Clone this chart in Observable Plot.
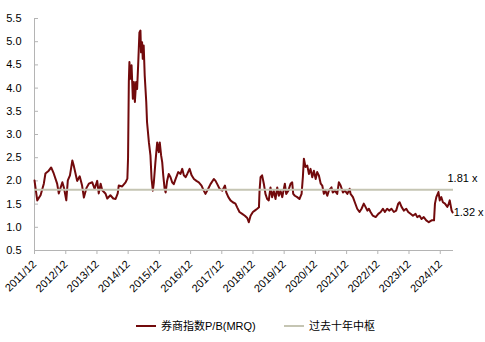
<!DOCTYPE html>
<html><head><meta charset="utf-8">
<script src="https://cdn.jsdelivr.net/npm/d3@7"></script>
<script src="https://cdn.jsdelivr.net/npm/@observablehq/plot@0.6"></script>
<style>
body{margin:0;background:#fff;font-family:"Liberation Sans",Arial,"Noto Sans CJK SC",sans-serif;}
#chart{width:485px;height:300px;}
#legend{position:relative;width:485px;height:42px;font-size:11px;color:#000;}
.item{position:absolute;top:20px;display:flex;align-items:center;height:12px;line-height:12px;white-space:nowrap;}
.sw{width:20px;height:2px;margin-right:5px;}
</style></head><body>
<div id="chart"></div>
<div id="legend"></div>
<script>
// Series: 券商指数P/B(MRQ)
const dates = [
"2011-12-01","2012-01-02","2012-02-10","2012-03-19","2012-04-07","2012-05-16","2012-06-13","2012-07-13","2012-08-22","2012-09-10",
"2012-10-22","2012-11-10","2012-12-07","2012-12-25","2013-01-19","2013-02-16","2013-03-04","2013-03-25","2013-04-13","2013-05-13",
"2013-06-10","2013-07-01","2013-08-01","2013-08-28","2013-10-07","2013-11-04","2013-12-04","2013-12-22","2014-01-13","2014-02-01",
"2014-03-10","2014-04-01","2014-05-07","2014-06-10","2014-07-07","2014-08-01","2014-08-13","2014-09-22","2014-11-01","2014-11-22",
"2014-11-30","2014-12-09","2014-12-16","2014-12-28","2015-01-10","2015-01-25","2015-02-06","2015-02-18","2015-03-04","2015-03-16",
"2015-03-28","2015-04-12","2015-04-24","2015-05-01","2015-05-13","2015-05-21","2015-06-01","2015-06-13","2015-07-01","2015-07-10",
"2015-08-01","2015-08-19","2015-09-01","2015-09-16","2015-09-28","2015-10-16","2015-11-06","2015-11-25","2015-12-06","2015-12-22",
"2016-01-04","2016-01-16","2016-02-01","2016-02-13","2016-03-01","2016-03-20","2016-04-10","2016-04-29","2016-05-18","2016-06-08",
"2016-07-09","2016-08-05","2016-08-25","2016-09-13","2016-10-03","2016-10-23","2016-11-19","2016-12-13","2017-01-09","2017-02-07",
"2017-03-07","2017-04-08","2017-05-04","2017-05-24","2017-06-25","2017-07-22","2017-08-30","2017-09-19","2017-10-09","2017-11-05",
"2017-12-07","2018-01-07","2018-01-23","2018-02-16","2018-03-13","2018-04-09","2018-05-10","2018-05-30","2018-06-26","2018-07-28",
"2018-08-28","2018-09-25","2018-10-13","2018-11-03","2018-11-30","2018-12-22","2019-01-20","2019-02-09","2019-02-16","2019-02-28",
"2019-03-18","2019-04-07","2019-04-26","2019-05-16","2019-06-04","2019-06-24","2019-07-13","2019-08-01","2019-08-22","2019-09-11",
"2019-09-30","2019-10-19","2019-11-09","2019-12-09","2019-12-25","2020-01-19","2020-02-14","2020-03-04","2020-03-16","2020-04-04",
"2020-05-02","2020-05-28","2020-06-22","2020-07-07","2020-07-19","2020-08-07","2020-08-28","2020-09-16","2020-10-05","2020-10-25",
"2020-11-13","2020-12-04","2020-12-22","2021-01-10","2021-02-01","2021-02-19","2021-03-10","2021-03-28","2021-04-19","2021-05-07",
"2021-06-07","2021-06-22","2021-07-16","2021-08-13","2021-09-01","2021-09-22","2021-10-19","2021-11-11","2021-12-10","2022-01-05",
"2022-01-16","2022-02-13","2022-03-07","2022-04-04","2022-05-01","2022-05-25","2022-06-20","2022-07-10","2022-08-01","2022-08-19",
"2022-09-07","2022-10-04","2022-11-06","2022-12-07","2023-01-04","2023-01-30","2023-02-22","2023-03-20","2023-04-16","2023-05-10",
"2023-06-07","2023-07-04","2023-07-28","2023-08-13","2023-09-05","2023-10-01","2023-10-30","2023-11-22","2023-12-19","2024-01-16",
"2024-02-16","2024-03-07","2024-04-03","2024-04-26","2024-05-22","2024-06-20","2024-07-20","2024-08-22","2024-09-19","2024-09-30",
"2024-10-16","2024-11-10","2024-11-25","2024-12-13","2025-01-01","2025-01-25","2025-02-22","2025-03-11","2025-03-22","2025-04-13",
"2025-04-25"
];
const values = [
2.01,1.58,1.69,1.94,2.16,2.22,2.29,2.16,1.94,1.73,
1.97,1.85,1.58,2.01,2.12,2.44,2.33,2.16,2.00,2.10,
1.90,1.64,1.85,1.94,1.97,1.83,2.00,1.73,1.94,1.80,
1.73,1.62,1.69,1.62,1.61,1.73,1.90,1.88,1.97,2.05,
2.50,4.13,4.56,4.20,4.49,3.77,4.13,3.70,4.13,3.98,
4.49,5.20,5.24,4.77,4.99,4.63,4.92,4.27,3.70,3.27,
2.83,2.55,2.05,1.79,1.97,2.40,2.83,2.62,2.83,2.55,
2.40,2.12,1.83,1.75,2.00,2.15,2.08,1.97,1.93,2.04,
2.19,2.15,2.26,2.12,2.08,2.15,2.26,2.12,2.04,2.00,
1.97,1.90,1.79,1.72,1.83,1.93,2.04,2.00,1.93,1.83,
1.79,1.90,1.75,1.65,1.58,1.54,1.51,1.43,1.33,1.29,
1.25,1.20,1.11,1.25,1.33,1.36,1.40,1.43,1.79,2.08,
2.12,1.94,1.72,1.61,1.58,1.86,1.65,1.79,1.61,1.86,
1.68,1.79,1.65,1.94,1.72,1.79,1.94,1.97,1.72,1.68,
1.65,1.61,1.72,2.08,2.48,2.30,2.33,2.15,2.26,2.08,
2.22,2.04,2.19,2.12,1.94,1.90,1.72,1.79,1.68,1.79,
1.86,1.75,1.79,1.72,1.97,1.90,1.75,1.79,1.72,1.83,
1.72,1.65,1.54,1.40,1.33,1.40,1.51,1.44,1.36,1.40,
1.33,1.25,1.22,1.29,1.33,1.40,1.33,1.40,1.36,1.40,
1.33,1.36,1.51,1.54,1.44,1.36,1.40,1.33,1.29,1.25,
1.29,1.22,1.25,1.18,1.22,1.15,1.11,1.15,1.15,1.51,
1.65,1.76,1.58,1.65,1.54,1.51,1.44,1.51,1.58,1.36,
1.32
];
// 过去十年中枢
const centerValue = 1.81;
// Annotation labels
const annoLabels = ["1.81 x", "1.32 x"];
// Axis ticks
const tickDates = ["2011-12-01","2012-12-01","2013-12-01","2014-12-01","2015-12-01","2016-12-01","2017-12-01","2018-12-01","2019-12-01","2020-12-01","2021-12-01","2022-12-01","2023-12-01","2024-12-01"];
const tickLabels = ["2011/12","2012/12","2013/12","2014/12","2015/12","2016/12","2017/12","2018/12","2019/12","2020/12","2021/12","2022/12","2023/12","2024/12"];
const yTicks = [0.5,1.0,1.5,2.0,2.5,3.0,3.5,4.0,4.5,5.0,5.5];
const xDomain = ["2011-12-01","2025-05-05"];
const seriesNames = ["券商指数P/B(MRQ)","过去十年中枢"];

const RED = "#720a0c", GRAY = "#c5c5b3", AXIS = "#b4b4b4";
const parse = d3.utcParse("%Y-%m-%d");
const data = dates.map((d, i) => ({date: parse(d), value: values[i]}));
const xd = xDomain.map(parse);
const tdates = tickDates.map(parse);
const labelMap = new Map(tdates.map((d, i) => [+d, tickLabels[i]]));
const last = data[data.length - 1];
const annos = [
  {date: xd[1], value: centerValue, text: annoLabels[0], dx: -6, dy: -11},
  {date: last.date, value: last.value, text: annoLabels[1], dx: 1, dy: 0}
];

const chart = Plot.plot({
  width: 485, height: 300,
  marginLeft: 34, marginRight: 32, marginTop: 18, marginBottom: 50,
  style: {fontFamily: '"Liberation Sans", Arial, "Noto Sans CJK SC", sans-serif', fontSize: "11px", color: "#000", background: "#fff", overflow: "visible"},
  x: {type: "utc", domain: xd},
  y: {domain: [yTicks[0], yTicks[yTicks.length - 1]]},
  marks: [
    Plot.ruleX([xd[0]], {stroke: AXIS}),
    Plot.ruleY([yTicks[0]], {stroke: AXIS}),
    Plot.axisY(yTicks, {tickSize: 0, tickPadding: 13, tickFormat: d3.format(".1f"), label: null}),
    Plot.axisY(yTicks, {tickSize: -4, tickFormat: () => "", label: null, stroke: AXIS}),
    Plot.axisX(tdates, {tickSize: 4, tickRotate: -45, tickFormat: d => labelMap.get(+d), label: null, stroke: AXIS, fill: "#000"}),
    Plot.line(data, {x: "date", y: "value", stroke: RED, strokeWidth: 2}),
    Plot.ruleY([centerValue], {stroke: GRAY, strokeWidth: 2}),
    Plot.text([annos[0]], {x: "date", y: "value", text: "text", dx: -6, dy: -11, textAnchor: "start", fill: "#000"}),
    Plot.text([annos[1]], {x: "date", y: "value", text: "text", dx: 1, textAnchor: "start", fill: "#000"})
  ]
});
document.getElementById("chart").appendChild(chart);

const legend = document.getElementById("legend");
const items = [{name: seriesNames[0], color: RED, left: 136}, {name: seriesNames[1], color: GRAY, left: 284}];
items.forEach(it => {
  const el = document.createElement("div");
  el.className = "item";
  el.style.left = it.left + "px";
  el.innerHTML = `<span class="sw" style="background:${it.color}"></span><span>${it.name}</span>`;
  legend.appendChild(el);
});
</script>
</body></html>
